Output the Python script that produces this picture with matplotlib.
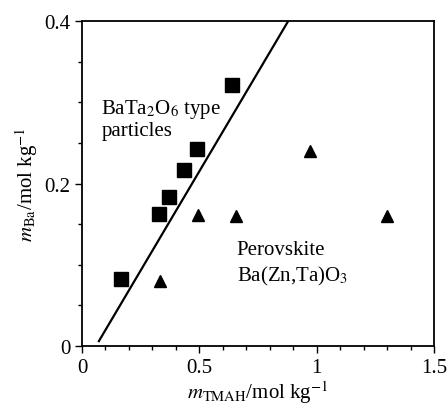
import matplotlib.pyplot as plt
from matplotlib.ticker import MultipleLocator

# BaTa2O6-type particles (squares)
sq_tmah = [0.165, 0.328, 0.371, 0.436, 0.49, 0.64]
sq_ba = [0.082, 0.163, 0.184, 0.217, 0.242, 0.321]

# perovskite Ba(Zn,Ta)O3 (triangles)
tri_tmah = [0.332, 0.493, 0.655, 0.971, 1.30]
tri_ba = [0.080, 0.161, 0.160, 0.240, 0.160]

# phase boundary line
line_tmah = [0.072, 0.879]
line_ba = [0.006, 0.40]

plt.rcParams['font.family'] = ['Liberation Serif', 'DejaVu Serif']
plt.rcParams['mathtext.fontset'] = 'stix'

fig = plt.figure(figsize=(4.47, 4.06), dpi=100)
ax = fig.add_axes([0.1834, 0.1453, 0.7875, 0.8005])

ax.plot(line_tmah, line_ba, color='black', lw=1.6)
ax.plot(sq_tmah, sq_ba, 's', color='black', ms=9.5, ls='none')
ax.plot(tri_tmah, tri_ba, '^', color='black', ms=9, ls='none')

ax.text(0.082, 0.307, 'BaTa$_2$O$_6$ type\nparticles', fontsize=15,
        va='top', ha='left', linespacing=1.1)
ax.text(0.66, 0.131, 'Perovskite\nBa(Zn,Ta)O$_3$', fontsize=15,
        va='top', ha='left', linespacing=1.3)

ax.set_xlim(0, 1.5)
ax.set_ylim(0, 0.4)
ax.xaxis.set_minor_locator(MultipleLocator(0.1))
ax.yaxis.set_minor_locator(MultipleLocator(0.05))
ax.set_xticks([0, 0.5, 1, 1.5])
ax.set_xticklabels(['0', '0.5', '1', '1.5'])
ax.set_yticks([0, 0.2, 0.4])
ax.set_yticklabels(['0', '0.2', '0.4'])
ax.tick_params(which='both', direction='out', labelsize=15, width=1)
ax.tick_params(which='major', length=5)
ax.tick_params(which='minor', length=3)
for s in ax.spines.values():
    s.set_linewidth(1.3)

ax.set_xlabel('$m_{\\mathrm{TMAH}}$/mol kg$^{-1}$', fontsize=15, labelpad=1)
ax.set_ylabel('$m_{\\mathrm{Ba}}$/mol kg$^{-1}$', fontsize=15, labelpad=3)

fig.savefig('out.png', dpi=100)
